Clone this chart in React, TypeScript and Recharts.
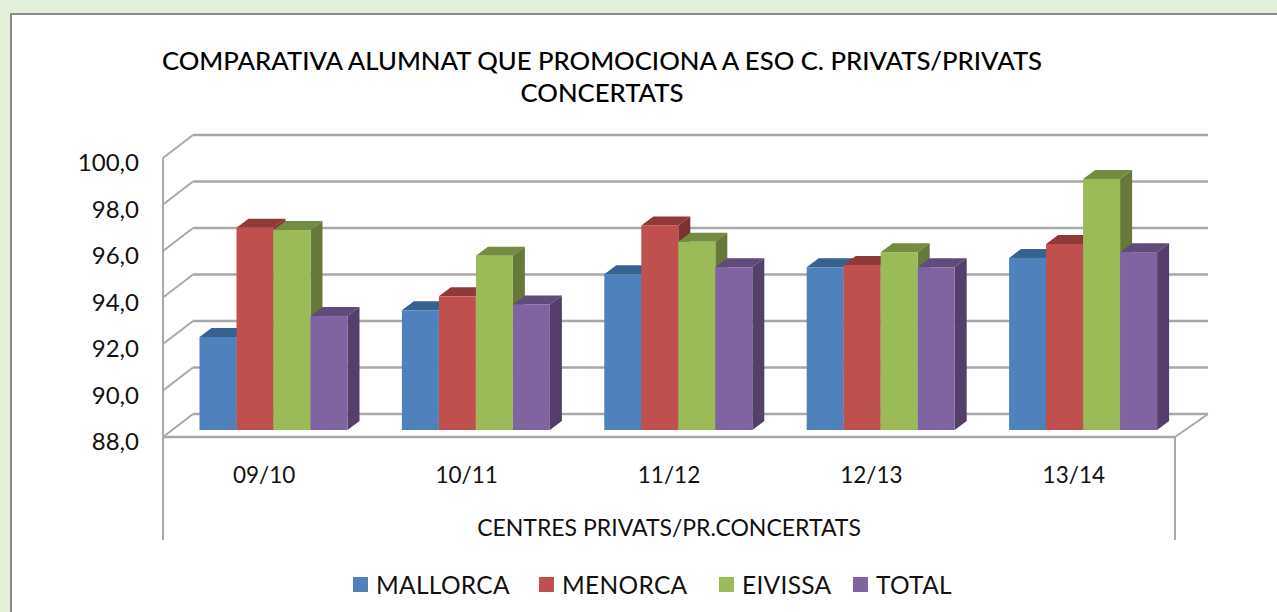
import React from 'react';
import { ComposedChart, Bar, XAxis, YAxis, CartesianGrid, Legend } from 'recharts';

const categories = ['09/10', '10/11', '11/12', '12/13', '13/14'];
const mallorca = [92.0, 93.15, 94.7, 95.0, 95.4];
const menorca = [96.7, 93.75, 96.8, 95.1, 96.0];
const eivissa = [96.6, 95.5, 96.1, 95.65, 98.8];
const total = [92.9, 93.4, 95.0, 95.0, 95.65];
const yTicks = [88, 90, 92, 94, 96, 98, 100];
const xTitle = 'CENTRES PRIVATS/PR.CONCERTATS';
const titleLines = ['COMPARATIVA ALUMNAT QUE PROMOCIONA A ESO C. PRIVATS/PRIVATS', 'CONCERTATS'];

const data = categories.map((c, i) => ({
  cat: c, MALLORCA: mallorca[i], MENORCA: menorca[i], EIVISSA: eivissa[i], TOTAL: total[i],
}));

const FONT = 'Lato, sans-serif';
const GRID = '#a8a8a8';
const DEPTH_X = 30;
const DEPTH_Y = 23;

const makeBar = (front: string, top: string, side: string) => (p: any) => {
  const x = p.x + 9.5, y = p.y - 7, w = p.width, h = p.height;
  const dx = 12, dy = 9;
  return (
    <g>
      <polygon points={`${x},${y} ${x + dx},${y - dy} ${x + w + dx},${y - dy} ${x + w},${y}`} fill={top} />
      <polygon points={`${x + w},${y} ${x + w + dx},${y - dy} ${x + w + dx},${y + h - dy} ${x + w},${y + h}`} fill={side} />
      <rect x={x} y={y} width={w} height={h} fill={front} />
    </g>
  );
};

const gridLine = (p: any) => (
  <g key={p.key ?? p.index}>
    <line x1={p.x1} y1={p.y1} x2={p.x1 + DEPTH_X} y2={p.y1 - DEPTH_Y} stroke={GRID} strokeWidth={2} />
    <line x1={p.x1 + DEPTH_X} y1={p.y1 - DEPTH_Y} x2={p.x2 + DEPTH_X + 3} y2={p.y1 - DEPTH_Y} stroke={GRID} strokeWidth={2.5} />
  </g>
);

const yTick = (p: any) => (
  <text x={p.x} y={p.y + 13} textAnchor="end" fontFamily={FONT} fontSize={24} fill="#111">
    {p.payload.value.toFixed(1).replace('.', ',')}
  </text>
);

const xTick = (p: any) => (
  <g>
    {p.index === 0 && (
      <g>
        <line x1={163} y1={437} x2={163} y2={540} stroke={GRID} strokeWidth={2} />
        <line x1={1175} y1={437} x2={1175} y2={540} stroke={GRID} strokeWidth={2} />
        <line x1={1175} y1={437} x2={1208} y2={414} stroke={GRID} strokeWidth={2} />
        <line x1={163} y1={158} x2={163} y2={437} stroke={GRID} strokeWidth={2} />
      </g>
    )}
    <text x={p.x} y={p.y + 38} textAnchor="middle" fontFamily={FONT} fontSize={22.5} fill="#111">
      {p.payload.value}
    </text>
  </g>
);

const legendContent = (p: any) => {
  const lefts = [353, 539, 719, 853];
  return (
    <div style={{ position: 'relative', width: 1277, height: 40 }}>
      {(p.payload || []).map((e: any, i: number) => (
        <div key={e.value} style={{ position: 'absolute', left: lefts[i], top: 0, display: 'flex', alignItems: 'center', height: 36 }}>
          <span style={{ width: 15, height: 15, background: e.color, display: 'inline-block', marginRight: 8 }} />
          <span style={{ fontFamily: FONT, fontSize: 24.5, letterSpacing: 0.3, color: '#111' }}>{e.value}</span>
        </div>
      ))}
    </div>
  );
};

export default function App() {
  return (
    <div style={{ position: 'absolute', left: 0, top: 0, width: 1277, height: 612, background: '#e2efd9', overflow: 'hidden' }}>
      <div style={{ position: 'absolute', left: 10, top: 13, width: 1280, height: 620, background: '#fff', border: '2px solid #8a8a8a', boxSizing: 'border-box' }} />
      <div style={{ position: 'absolute', left: 0, top: 44, width: 1204, textAlign: 'center', fontFamily: FONT, fontWeight: 500, fontSize: 25.7, lineHeight: '32px', color: '#000' }}>
        {titleLines.map((t) => <div key={t} style={{ whiteSpace: 'nowrap' }}>{t}</div>)}
      </div>
      <div style={{ position: 'absolute', left: 0, top: 0 }}>
        <ComposedChart width={1277} height={612} data={data} barSize={37} barGap={0} barCategoryGap={0}
          margin={{ left: 103, top: 158, right: 102, bottom: 0 }}>
          <CartesianGrid vertical={false} horizontal={gridLine as any} />
          <XAxis dataKey="cat" height={135} axisLine={{ stroke: GRID, strokeWidth: 2.5 }} tickLine={false} interval={0} tick={xTick}
            label={{ value: xTitle, position: 'insideBottom', offset: 36, fontFamily: FONT, fontSize: 23, fill: '#111' }} />
          <YAxis width={60} domain={[88, 100]} ticks={yTicks} axisLine={false} tickLine={false} tickSize={0} tickMargin={24} tick={yTick} />
          <Bar dataKey="MALLORCA" fill="#4f81bd" isAnimationActive={false} shape={makeBar('#4f81bd', '#38618f', '#2f5280')} />
          <Bar dataKey="MENORCA" fill="#c0504d" isAnimationActive={false} shape={makeBar('#c0504d', '#8f3a38', '#7d3230')} />
          <Bar dataKey="EIVISSA" fill="#9bbb59" isAnimationActive={false} shape={makeBar('#9bbb59', '#748c42', '#66793a')} />
          <Bar dataKey="TOTAL" fill="#8064a2" isAnimationActive={false} shape={makeBar('#8064a2', '#604b7a', '#533f6a')} />
          <Legend content={legendContent} layout="horizontal" verticalAlign="bottom" itemSorter={null as any} wrapperStyle={{ position: 'absolute', left: 0, top: 566, width: 1277 }} />
        </ComposedChart>
      </div>
    </div>
  );
}
